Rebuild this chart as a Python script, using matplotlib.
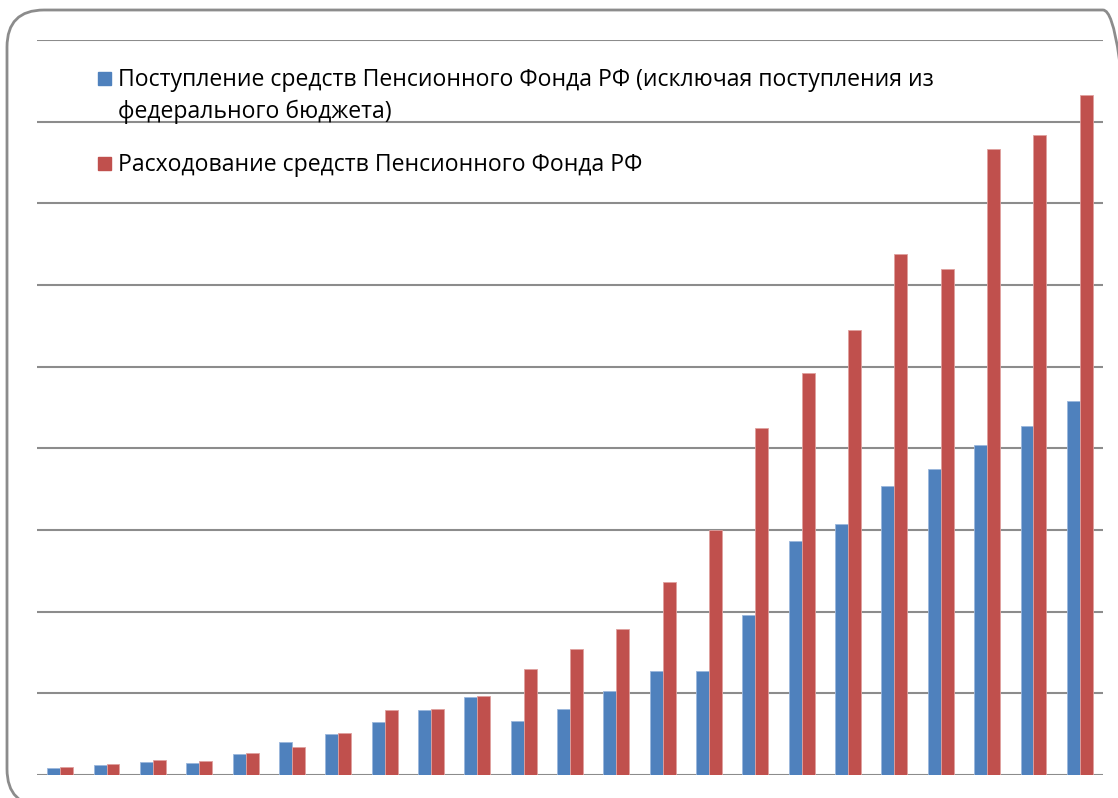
import numpy as np
import matplotlib.pyplot as plt
from matplotlib.patches import FancyBboxPatch, Rectangle

# доходы / расходы ПФР по годам (условные единицы, шаг сетки = 500)
years = list(range(1992, 2015))
income = [43, 61, 78, 76, 131, 204, 251, 327, 398, 478,
          331, 404, 515, 637, 639, 980, 1433, 1537, 1770, 1874,
          2021, 2137, 2290]
expense = [49, 68, 92, 86, 137, 172, 259, 396, 404, 484,
           649, 772, 894, 1182, 1500, 2125, 2461, 2725, 3190, 3098,
           3833, 3918, 4163]
labels = ['Поступление средств Пенсионного Фонда РФ (исключая поступления из',
          'федерального бюджета)',
          'Расходование средств Пенсионного Фонда РФ']

W, H = 1118, 798
fig = plt.figure(figsize=(W / 100, H / 100), dpi=100)
plt.rcParams['font.family'] = ['Open Sans', 'DejaVu Sans']

# рамка со скруглёнными углами (справа и снизу обрезана), в дюймах
top_px, left_px, right_px, bot_px = 10, 7, 1140, 806
frame = FancyBboxPatch((left_px / 100, (H - bot_px) / 100), (right_px - left_px) / 100,
                       (bot_px - top_px) / 100,
                       boxstyle='round,pad=0,rounding_size=0.37',
                       transform=fig.dpi_scale_trans, fill=False,
                       edgecolor='#8c8c8c', linewidth=2)
fig.patches.append(frame)

ax = fig.add_axes([37 / W, 1 - 775 / H, (1103 - 37) / W, (775 - 40) / H])
x = np.arange(len(years))
w = 0.28
ax.bar(x - w / 2, income, w, color='#4F81BD', edgecolor='#9bb7dc', linewidth=0.6, zorder=3)
ax.bar(x + w / 2, expense, w, color='#C0504D', edgecolor='#e0a09e', linewidth=0.6, zorder=3)

ax.set_xlim(-0.5, len(years) - 0.5)
ax.set_ylim(0, 4500)
ax.set_yticks(np.arange(0, 4501, 500))
ax.yaxis.grid(True, color='#8c8c8c', linewidth=1.5, zorder=0)
ax.set_axisbelow(True)
ax.tick_params(left=False, bottom=False, labelleft=False, labelbottom=False)
for s in ax.spines.values():
    s.set_visible(False)

# легенда
fs = 16.6
fig.patches.append(Rectangle((98 / W, 1 - 85 / H), 13 / W, 13 / H,
                             transform=fig.transFigure, color='#4F81BD'))
fig.patches.append(Rectangle((98 / W, 1 - 170 / H), 13 / W, 13 / H,
                             transform=fig.transFigure, color='#C0504D'))
fig.text(118 / W, 1 - 86 / H, labels[0], fontsize=fs, va='baseline', color='black')
fig.text(118 / W, 1 - 118 / H, labels[1], fontsize=fs, va='baseline', color='black')
fig.text(118 / W, 1 - 171 / H, labels[2], fontsize=fs, va='baseline', color='black')

fig.savefig('out.png', dpi=100)
